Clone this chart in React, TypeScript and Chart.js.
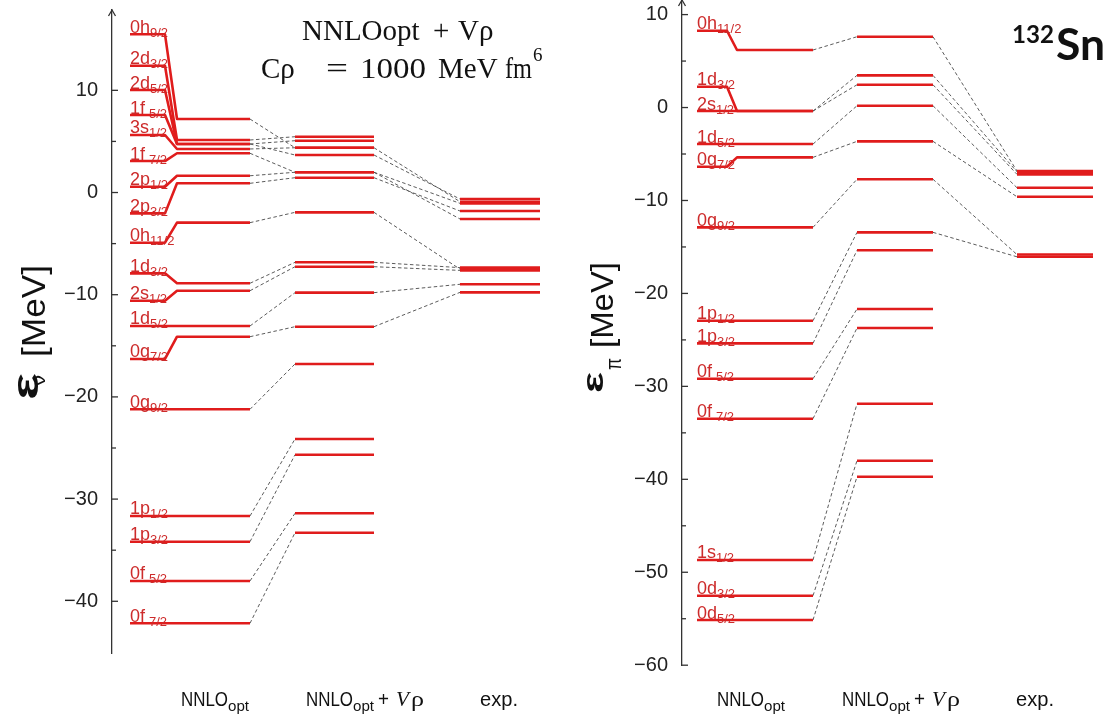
import React, { useEffect, useRef } from "react";
import { Chart, registerables } from "chart.js";

Chart.register(...registerables);

// ---------------- Neutron single-particle levels (MeV) ----------------
const NEUTRON_ORBITS = ["0h", "2d", "2d", "1f", "3s", "1f", "2p", "2p", "0h", "1d", "2s", "1d", "0g", "0g", "1p", "1p", "0f", "0f"];
const NEUTRON_J = ["9/2", "3/2", "5/2", "5/2", "1/2", "7/2", "1/2", "3/2", "11/2", "3/2", "1/2", "5/2", "7/2", "9/2", "1/2", "3/2", "5/2", "7/2"];
// height at which each state's name is written
const NEUTRON_LABEL_LEVELS = [15.48, 12.41, 10.03, 7.58, 5.63, 3.08, 0.57, -2.04, -4.91, -7.91, -10.59, -13.06, -16.29, -21.21, -31.65, -34.17, -38.01, -42.15];
const NEUTRON_NNLO = [7.19, 5.14, 4.75, 4.75, 4.26, 3.84, 1.64, 0.9, -2.95, -8.88, -9.61, -13.06, -14.11, -21.21, -31.65, -34.17, -38.01, -42.15];
const NEUTRON_VRHO = [4.38, 5.46, 5.07, 3.67, 4.38, 1.98, 1.98, 1.45, -1.94, -6.83, -7.26, -9.8, -13.13, -16.78, -24.12, -25.66, -31.39, -33.29];
const NEUTRON_EXP: (number | null)[] = [-0.9, null, null, -0.64, null, -2.59, -1.06, -1.81, -7.5, -7.35, -7.62, -8.98, -9.77, null, null, null, null, null];
const NEUTRON_TICKS = [10, 0, -10, -20, -30, -40];
const NEUTRON_RANGE: [number, number] = [-45.06, 17.86];

// ---------------- Proton single-particle levels (MeV) ----------------
const PROTON_ORBITS = ["0h", "1d", "2s", "1d", "0g", "0g", "1p", "1p", "0f", "0f", "1s", "0d", "0d"];
const PROTON_J = ["11/2", "3/2", "1/2", "5/2", "7/2", "9/2", "1/2", "3/2", "5/2", "7/2", "1/2", "3/2", "5/2"];
const PROTON_LABEL_LEVELS = [8.26, 2.24, -0.38, -3.93, -6.37, -12.89, -22.94, -25.37, -29.18, -33.48, -48.68, -52.52, -55.14];
const PROTON_NNLO = [6.19, -0.38, -0.38, -3.93, -5.36, -12.89, -22.94, -25.37, -29.18, -33.48, -48.68, -52.52, -55.14];
const PROTON_VRHO = [7.62, 3.46, 2.45, 0.19, -3.64, -7.72, -13.43, -15.36, -21.68, -23.72, -31.87, -38.0, -39.72];
const PROTON_EXP: (number | null)[] = [-6.83, -6.92, -7.19, -8.63, -9.6, -15.82, -16.06, null, null, null, null, null, null];
const PROTON_TICKS = [10, 0, -10, -20, -30, -40, -50, -60];
const PROTON_RANGE: [number, number] = [-60, 11.57];

// ---------------- styling ----------------
const LEVEL_RED = "#e01c1c";
const LABEL_RED = "#cd2b2b";
const LINK_GREY = "#4a4a4a";
const AXIS_COLOR = "#333";
const SANS = "'Liberation Sans', Arial, sans-serif";
const NARROW = "'Liberation Sans Narrow', 'Liberation Sans', sans-serif";
const SERIF = "'Liberation Serif', 'DejaVu Serif', serif";
const BOLD_SANS = "Lato, 'Open Sans', sans-serif";

type Run = { t: string; x: number; y: number; w?: number; font: string; color?: string };

interface Columns {
  labelStart: number; labelEnd: number; nnloStart: number; nnloEnd: number;
  vrhoStart: number; vrhoEnd: number; expStart: number; expEnd: number;
}

interface PanelSpec {
  left: number; width: number; axisX: number; padTop: number; padBottom: number;
  range: [number, number]; ticks: number[];
  orbits: string[]; js: string[]; labelLevels: number[];
  nnlo: number[]; vrho: number[]; exp: (number | null)[];
  cols: Columns;
  texts: Run[];
  yTitle: { ox: number; oy: number; runs: Run[] };
}

function bottomRuns(x0: number): Run[] {
  return [
    { t: "NNLO", x: x0, y: 706, w: 47, font: `21px ${NARROW}` },
    { t: "opt", x: x0 + 47, y: 711, w: 21, font: `14px ${NARROW}` },
    { t: "NNLO", x: x0 + 125, y: 706, w: 47, font: `21px ${NARROW}` },
    { t: "opt", x: x0 + 172, y: 711, w: 21, font: `14px ${NARROW}` },
    { t: "+", x: x0 + 197, y: 706, w: 11, font: `20px ${SANS}` },
    { t: "V", x: x0 + 215, y: 706, w: 13, font: `italic 22px ${SERIF}` },
    { t: "ρ", x: x0 + 230, y: 706, w: 13, font: `22px ${SERIF}` },
    { t: "exp.", x: x0 + 299, y: 706, w: 38, font: `21px ${NARROW}` },
  ];
}

const TITLE_FONT = `29px ${SERIF}`;

const NEUTRON_PANEL: PanelSpec = {
  left: 0, width: 560, axisX: 112, padTop: 10, padBottom: 61,
  range: NEUTRON_RANGE, ticks: NEUTRON_TICKS,
  orbits: NEUTRON_ORBITS, js: NEUTRON_J, labelLevels: NEUTRON_LABEL_LEVELS,
  nnlo: NEUTRON_NNLO, vrho: NEUTRON_VRHO, exp: NEUTRON_EXP,
  cols: { labelStart: 18, labelEnd: 53, nnloStart: 65, nnloEnd: 138, vrhoStart: 183, vrhoEnd: 262, expStart: 348, expEnd: 428 },
  texts: [
    { t: "NNLOopt", x: 302, y: 40, font: TITLE_FONT },
    { t: "+", x: 433, y: 40, font: TITLE_FONT },
    { t: "Vρ", x: 458, y: 40, font: TITLE_FONT },
    { t: "Cρ", x: 261, y: 78, font: TITLE_FONT },
    { t: "=", x: 326, y: 78, w: 22, font: TITLE_FONT },
    { t: "1000", x: 360, y: 78, w: 66, font: TITLE_FONT },
    { t: "MeV", x: 438, y: 78, font: TITLE_FONT },
    { t: "fm", x: 505, y: 78, w: 27, font: TITLE_FONT },
    { t: "6", x: 533, y: 61, font: `19px ${SERIF}` },
    ...bottomRuns(181),
  ],
  yTitle: {
    ox: 38, oy: 400,
    runs: [
      { t: "ε", x: 0, y: 0, w: 27, font: `bold 36px ${SANS}` },
      { t: "ν", x: 14, y: 7, w: 11, font: `17px ${SANS}` },
      { t: "[MeV]", x: 43, y: 7, w: 92, font: `34px ${SANS}` },
    ],
  },
};

const PROTON_PANEL: PanelSpec = {
  left: 560, width: 553, axisX: 122, padTop: 0, padBottom: 48.8,
  range: PROTON_RANGE, ticks: PROTON_TICKS,
  orbits: PROTON_ORBITS, js: PROTON_J, labelLevels: PROTON_LABEL_LEVELS,
  nnlo: PROTON_NNLO, vrho: PROTON_VRHO, exp: PROTON_EXP,
  cols: { labelStart: 15, labelEnd: 45, nnloStart: 55, nnloEnd: 131, vrhoStart: 175, vrhoEnd: 251, expStart: 335, expEnd: 411 },
  texts: [
    { t: "132", x: 1012, y: 43, w: 42, font: `bold 25px ${BOLD_SANS}` },
    { t: "Sn", x: 1056, y: 60, w: 49, font: `bold 44px ${BOLD_SANS}` },
    ...bottomRuns(717),
  ],
  yTitle: {
    ox: 603, oy: 393,
    runs: [
      { t: "ε", x: 0, y: 0, w: 21, font: `bold 30px ${SANS}` },
      { t: "π", x: 23, y: 18, w: 12, font: `22px ${SANS}` },
      { t: "[MeV]", x: 45, y: 10, w: 86, font: `32px ${SANS}` },
    ],
  },
};

function drawRun(ctx: CanvasRenderingContext2D, r: Run) {
  ctx.save();
  ctx.font = r.font;
  ctx.fillStyle = r.color ?? "#111";
  ctx.textAlign = "left";
  ctx.textBaseline = "alphabetic";
  ctx.translate(r.x, r.y);
  if (r.w) {
    const m = ctx.measureText(r.t).width;
    if (m > 0) ctx.scale(r.w / m, 1);
  }
  ctx.fillText(r.t, 0, 0);
  ctx.restore();
}

function buildDatasets(s: PanelSpec) {
  const red = {
    borderColor: LEVEL_RED, borderWidth: 2.6, pointRadius: 0, fill: false,
    order: 0, tension: 0, borderCapStyle: "butt", borderJoinStyle: "round",
  };
  const dash = {
    borderColor: LINK_GREY, borderWidth: 0.9, borderDash: [3.5, 2.5],
    pointRadius: 0, fill: false, order: 1, tension: 0,
  };
  const c = s.cols;
  const sets: any[] = [];
  s.orbits.forEach((_, i) => {
    const lab = s.labelLevels[i];
    const a = s.nnlo[i];
    const b = s.vrho[i];
    const e = s.exp[i];
    sets.push({ ...red, data: [
      { x: c.labelStart, y: lab }, { x: c.labelEnd, y: lab },
      { x: c.nnloStart, y: a }, { x: c.nnloEnd, y: a },
    ] });
    sets.push({ ...red, data: [{ x: c.vrhoStart, y: b }, { x: c.vrhoEnd, y: b }] });
    sets.push({ ...dash, data: [{ x: c.nnloEnd, y: a }, { x: c.vrhoStart, y: b }] });
    if (e !== null) {
      sets.push({ ...red, data: [{ x: c.expStart, y: e }, { x: c.expEnd, y: e }] });
      sets.push({ ...dash, data: [{ x: c.vrhoEnd, y: b }, { x: c.expStart, y: e }] });
    }
  });
  return sets;
}

function fmtTick(v: number) {
  return v < 0 ? "\u2212" + Math.abs(v) : String(v);
}

function LevelPanel({ spec }: { spec: PanelSpec }) {
  const ref = useRef<HTMLCanvasElement | null>(null);

  useEffect(() => {
    const canvas = ref.current;
    if (!canvas) return;

    const axisDecor = {
      id: "axisDecor",
      afterDraw(chart: any) {
        const { ctx, chartArea } = chart;
        const ys = chart.scales.y;
        const x0 = chartArea.left;
        ctx.save();
        ctx.strokeStyle = AXIS_COLOR;
        ctx.lineWidth = 1.3;
        const t = spec.ticks;
        t.forEach((v) => {
          const py = ys.getPixelForValue(v);
          ctx.beginPath(); ctx.moveTo(x0, py); ctx.lineTo(x0 + 6, py); ctx.stroke();
        });
        for (let k = 0; k < t.length - 1; k++) {
          const py = ys.getPixelForValue((t[k] + t[k + 1]) / 2);
          ctx.beginPath(); ctx.moveTo(x0, py); ctx.lineTo(x0 + 4, py); ctx.stroke();
        }
        const top = chartArea.top;
        ctx.beginPath();
        ctx.moveTo(x0 - 3.5, top + 6); ctx.lineTo(x0, top); ctx.lineTo(x0 + 3.5, top + 6);
        ctx.stroke();
        ctx.restore();
      },
    };

    const stateLabels = {
      id: "stateLabels",
      afterDatasetsDraw(chart: any) {
        const { ctx } = chart;
        const xs = chart.scales.x;
        const ys = chart.scales.y;
        ctx.save();
        ctx.fillStyle = LABEL_RED;
        ctx.textAlign = "left";
        ctx.textBaseline = "alphabetic";
        spec.orbits.forEach((orb, i) => {
          const px = xs.getPixelForValue(spec.cols.labelStart);
          const py = ys.getPixelForValue(spec.labelLevels[i]);
          ctx.font = `18px ${SANS}`;
          ctx.fillText(orb, px, py - 1.5);
          const w = ctx.measureText(orb).width + (orb.endsWith("f") ? 4 : 0);
          ctx.font = `13px ${SANS}`;
          ctx.fillText(spec.js[i], px + w, py + 2.5);
        });
        ctx.restore();
      },
    };

    const annotations = {
      id: "annotations",
      afterDraw(chart: any) {
        const { ctx } = chart;
        ctx.save();
        ctx.translate(-spec.left, 0);
        spec.texts.forEach((r) => drawRun(ctx, r));
        ctx.restore();
        ctx.save();
        ctx.translate(spec.yTitle.ox - spec.left, spec.yTitle.oy);
        ctx.rotate(-Math.PI / 2);
        spec.yTitle.runs.forEach((r) => drawRun(ctx, r));
        ctx.restore();
      },
    };

    const chart = new Chart(canvas, {
      type: "line",
      data: { datasets: buildDatasets(spec) },
      options: {
        responsive: false,
        maintainAspectRatio: false,
        animation: false,
        events: [],
        layout: { padding: { top: spec.padTop, bottom: spec.padBottom, left: 0, right: 0 } },
        plugins: {
          legend: { display: false },
          tooltip: { enabled: false },
          title: { display: false },
        },
        scales: {
          x: { type: "linear", display: false, min: 0, max: spec.width - spec.axisX },
          y: {
            type: "linear",
            position: "left",
            min: spec.range[0],
            max: spec.range[1],
            afterBuildTicks: (s: any) => {
              s.ticks = spec.ticks.map((v) => ({ value: v }));
            },
            afterFit: (s: any) => {
              s.width = spec.axisX;
              s.paddingTop = 0;
              s.paddingBottom = 0;
            },
            grid: { display: false },
            border: { display: true, color: AXIS_COLOR, width: 1.3 },
            ticks: {
              padding: 6,
              color: "#222",
              font: { family: SANS, size: 20 },
              callback: (v: any) => fmtTick(Number(v)),
            },
          },
        },
      } as any,
      plugins: [axisDecor, stateLabels, annotations],
    });

    return () => chart.destroy();
  }, [spec]);

  return (
    <canvas
      ref={ref}
      width={spec.width}
      height={714}
      style={{ position: "absolute", left: spec.left, top: 0, width: spec.width, height: 714 }}
    />
  );
}

export default function App() {
  return (
    <div style={{ position: "absolute", left: 0, top: 0, width: 1113, height: 714, background: "#fff", overflow: "hidden" }}>
      <LevelPanel spec={NEUTRON_PANEL} />
      <LevelPanel spec={PROTON_PANEL} />
    </div>
  );
}
